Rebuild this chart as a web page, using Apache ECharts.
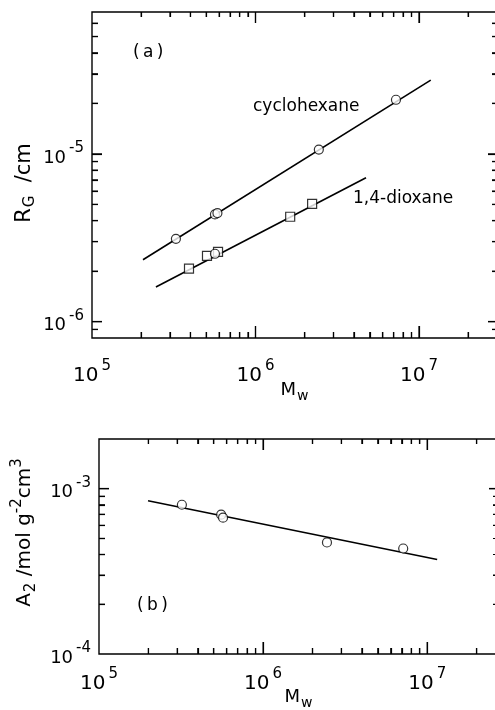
<!DOCTYPE html>
<html><head><meta charset="utf-8">
<script src="https://cdn.jsdelivr.net/npm/echarts@6/dist/echarts.min.js"></script>
<style>html,body{margin:0;padding:0;background:#fff}#c{width:495px;height:710px}</style>
</head><body><div id="c"></div>
<script>
// ---- Panel (a): radius of gyration vs Mw ----
const cyclohexaneMw = [3.26e5, 5.65e5, 5.85e5, 2.44e6, 7.23e6];
const cyclohexaneRg = [3.12e-6, 4.36e-6, 4.44e-6, 1.06e-5, 2.10e-5];
const cyclohexaneFitMw = [2.05e5, 1.18e7];
const cyclohexaneFitRg = [2.34e-6, 2.75e-5];
const dioxaneMw = [3.92e5, 5.05e5, 5.9e5, 1.63e6, 2.22e6];
const dioxaneRg = [2.07e-6, 2.47e-6, 2.61e-6, 4.22e-6, 5.04e-6];
const dioxaneCircleMw = [5.65e5];
const dioxaneCircleRg = [2.54e-6];
const dioxaneFitMw = [2.46e5, 4.74e6];
const dioxaneFitRg = [1.61e-6, 7.2e-6];
// ---- Panel (b): second virial coefficient vs Mw ----
const a2Mw = [3.2e5, 5.55e5, 5.7e5, 2.45e6, 7.14e6];
const a2Val = [8.0e-4, 6.97e-4, 6.68e-4, 4.73e-4, 4.35e-4];
const a2FitMw = [1.99e5, 1.15e7];
const a2FitVal = [8.47e-4, 3.73e-4];
// ---- axis ranges and tick values ----
const xRangeA = [1e5, 3e7];
const yRangeA = [8e-7, 7e-5];
const xRangeB = [1e5, 2.7e7];
const yRangeB = [1e-4, 2e-3];
const xMajorTicks = [1e5, 1e6, 1e7];
const xMinorTicks = [2e5, 3e5, 4e5, 5e5, 6e5, 7e5, 8e5, 9e5, 2e6, 3e6, 4e6, 5e6, 6e6, 7e6, 8e6, 9e6, 2e7];
const yMajorTicksA = [1e-6, 1e-5];
const yMinorTicksA = [8e-7, 9e-7, 2e-6, 3e-6, 4e-6, 5e-6, 6e-6, 7e-6, 8e-6, 9e-6, 2e-5, 3e-5, 4e-5, 5e-5, 6e-5];
const yMajorTicksB = [1e-4, 1e-3];
const yMinorTicksB = [2e-4, 3e-4, 4e-4, 5e-4, 6e-4, 7e-4, 8e-4, 9e-4];
const xTitle = 'M{sub|w}';
const yTitleA = 'R{sub|G}  /cm';
const yTitleB = 'A{sub|2} /mol g{sup|-2}cm{sup|3}';

const FONT = 'DejaVu Sans';
const zip = (a, b) => a.map((v, i) => [v, b[i]]);

function powLabel(v) {
  const e = Math.log10(v);
  const r = Math.round(e);
  if (Math.abs(e - r) > 1e-6) return '';
  return '{b|10}{s|' + (r < 0 ? '-' + (-r) : r) + '}';
}
function labelRich(size, supSize) {
  return {
    b: {fontFamily: FONT, fontSize: size, color: '#000', padding: [8, 0, 0, 0]},
    s: {fontFamily: FONT, fontSize: supSize, color: '#000', padding: [0, 0, 11, 3]}
  };
}
function nameRich(size) {
  return {
    sub: {fontFamily: FONT, fontSize: size, color: '#000', padding: [12, 0, 0, 1]},
    sup: {fontFamily: FONT, fontSize: size, color: '#000', padding: [0, 0, 15, 0]}
  };
}

function xAxisCfg(gi, range, margin, gap) {
  return {
    gridIndex: gi, type: 'log', logBase: 10, min: range[0], max: range[1],
    axisLine: {show: false}, axisTick: {show: false}, splitLine: {show: false},
    axisLabel: {formatter: powLabel, rich: labelRich(20, 15), margin: margin, fontFamily: FONT, fontSize: 20, color: '#000',
      showMinLabel: true, showMaxLabel: true, hideOverlap: false},
    name: xTitle, nameLocation: 'middle', nameGap: gap, nameMoveOverlap: false,
    nameTextStyle: {fontFamily: FONT, fontSize: 18, color: '#000', rich: nameRich(14)}
  };
}
function yAxisCfg(gi, range, gap, title, pad, size, subSize) {
  return {
    gridIndex: gi, type: 'log', logBase: 10, min: range[0], max: range[1],
    axisLine: {show: false}, axisTick: {show: false}, splitLine: {show: false},
    axisLabel: {formatter: powLabel, rich: labelRich(18, 15), margin: 8, fontFamily: FONT, fontSize: 18, color: '#000',
      showMinLabel: true, showMaxLabel: true, hideOverlap: false},
    name: title, nameLocation: 'middle', nameGap: gap, nameRotate: 90, nameMoveOverlap: false,
    nameTextStyle: {fontFamily: FONT, fontSize: size, color: '#000', rich: nameRich(subSize), padding: pad}
  };
}
// Tick-only companion axes (log10 of the value, same span as the log axis) for the
// inward major/minor ticks on every side of the frame.
function tickAxis(gi, range, position, ticks, len) {
  return {
    gridIndex: gi, type: 'value', position: position,
    min: Math.log10(range[0]), max: Math.log10(range[1]),
    axisLine: {show: false}, splitLine: {show: false}, axisLabel: {show: false},
    axisTick: {show: true, inside: true, length: len,
      customValues: ticks.filter(v => v > range[0] && v < range[1]).map(v => Math.log10(v)),
      lineStyle: {color: '#000', width: 1.2}}
  };
}

// Tick marks drawn through the panel's log axes (kind 0/1 x major/minor, 2/3 y major/minor; side 0 bottom/left, 1 top/right)
function tickSeries(gi, xr, yr, yMaj, yMin) {
  const pts = [], meta = [];
  const add = (x, y, kind, side) => { pts.push([x, y]); meta.push([kind, side]); };
  [0, 1].forEach(side => {
    xMajorTicks.forEach(v => { if (v > xr[0] && v < xr[1]) add(v, yr[0], 0, side); });
    xMinorTicks.forEach(v => { if (v > xr[0] && v < xr[1]) add(v, yr[0], 1, side); });
    yMaj.forEach(v => { if (v > yr[0] && v < yr[1]) add(xr[0], v, 2, side); });
    yMin.forEach(v => { if (v > yr[0] && v < yr[1]) add(xr[0], v, 3, side); });
  });
  return {
    type: 'custom', xAxisIndex: gi, yAxisIndex: gi, data: pts, z: 50,
    encode: {x: 0, y: 1},
    renderItem: function (params, api) {
      const cs = params.coordSys;
      const kind = meta[params.dataIndex][0], side = meta[params.dataIndex][1];
      const p = api.coord([api.value(0), api.value(1)]);
      let s;
      if (kind < 2) {
        const len = kind === 0 ? (side ? 11 : 12) : (side ? 5 : 6);
        const x = p[0];
        s = side ? [x, cs.y, x, cs.y + len] : [x, cs.y + cs.height, x, cs.y + cs.height - len];
      } else {
        const len = kind === 2 ? (side ? 9 : 10) : (side ? 5 : 6);
        const y = p[1];
        s = side ? [cs.x + cs.width, y, cs.x + cs.width - len, y] : [cs.x, y, cs.x + len, y];
      }
      return {type: 'line', shape: {x1: s[0], y1: s[1], x2: s[2], y2: s[3]}, style: {stroke: '#000', lineWidth: 1.2}};
    }
  };
}

const lineStyle = {color: '#000', width: 1.6};
const openMark = {color: '#fff', borderColor: '#000', borderWidth: 1.2};

const option = {
  backgroundColor: '#fff',
  animation: false,
  grid: [
    {left: 92, top: 12, width: 405, height: 326, outerBoundsMode: 'none', containLabel: false,
      show: true, borderColor: '#000', borderWidth: 1.4, backgroundColor: 'transparent'},
    {left: 99, top: 439, width: 399, height: 215, outerBoundsMode: 'none', containLabel: false,
      show: true, borderColor: '#000', borderWidth: 1.4, backgroundColor: 'transparent'}
  ],
  xAxis: [
    xAxisCfg(0, xRangeA, 20, 39), xAxisCfg(1, xRangeB, 12, 30),
    tickAxis(0, xRangeA, 'bottom', xMajorTicks, 12), tickAxis(0, xRangeA, 'bottom', xMinorTicks, 6),
    tickAxis(0, xRangeA, 'top', xMajorTicks, 11), tickAxis(0, xRangeA, 'top', xMinorTicks, 5),
    tickAxis(1, xRangeB, 'bottom', xMajorTicks, 12), tickAxis(1, xRangeB, 'bottom', xMinorTicks, 6),
    tickAxis(1, xRangeB, 'top', xMajorTicks, 11), tickAxis(1, xRangeB, 'top', xMinorTicks, 5)
  ],
  yAxis: [
    yAxisCfg(0, yRangeA, 54, yTitleA, [0, 16, 0, 0], 21, 15),
    yAxisCfg(1, yRangeB, 59, yTitleB, [0, 0, 0, 28], 20, 15),
    tickAxis(0, yRangeA, 'left', yMajorTicksA, 10), tickAxis(0, yRangeA, 'left', yMinorTicksA, 6),
    tickAxis(0, yRangeA, 'right', yMajorTicksA, 9), tickAxis(0, yRangeA, 'right', yMinorTicksA, 5),
    tickAxis(1, yRangeB, 'left', yMajorTicksB, 10), tickAxis(1, yRangeB, 'left', yMinorTicksB, 6),
    tickAxis(1, yRangeB, 'right', yMajorTicksB, 9), tickAxis(1, yRangeB, 'right', yMinorTicksB, 5)
  ],
  series: [
    {type: 'line', xAxisIndex: 0, yAxisIndex: 0, data: zip(cyclohexaneFitMw, cyclohexaneFitRg), showSymbol: false, lineStyle: lineStyle, z: 3},
    {type: 'line', xAxisIndex: 0, yAxisIndex: 0, data: zip(dioxaneFitMw, dioxaneFitRg), showSymbol: false, lineStyle: lineStyle, z: 3},
    {type: 'line', xAxisIndex: 1, yAxisIndex: 1, data: zip(a2FitMw, a2FitVal), showSymbol: false, lineStyle: lineStyle, z: 3},
    {type: 'scatter', xAxisIndex: 0, yAxisIndex: 0, data: zip(cyclohexaneMw, cyclohexaneRg), symbol: 'circle', symbolSize: 9, itemStyle: openMark, z: 4},
    {type: 'scatter', xAxisIndex: 0, yAxisIndex: 0, data: zip(dioxaneMw, dioxaneRg), symbol: 'rect', symbolSize: 9, itemStyle: openMark, z: 4},
    {type: 'scatter', xAxisIndex: 0, yAxisIndex: 0, data: zip(dioxaneCircleMw, dioxaneCircleRg), symbol: 'circle', symbolSize: 9, itemStyle: openMark, z: 4},
    {type: 'scatter', xAxisIndex: 1, yAxisIndex: 1, data: zip(a2Mw, a2Val), symbol: 'circle', symbolSize: 9, itemStyle: openMark, z: 4},
    tickSeries(0, xRangeA, yRangeA, yMajorTicksA, yMinorTicksA),
    tickSeries(1, xRangeB, yRangeB, yMajorTicksB, yMinorTicksB)
  ],
  graphic: [
    {type: 'text', left: 133, top: 44, style: {text: '(\u2009a\u2009)', font: '17px "DejaVu Sans"', fill: '#000'}},
    {type: 'text', left: 253, top: 98, style: {text: 'cyclohexane', font: '17px "DejaVu Sans"', fill: '#000'}},
    {type: 'text', left: 353, top: 190, style: {text: '1,4-dioxane', font: '17px "DejaVu Sans"', fill: '#000'}},
    {type: 'text', left: 137, top: 597, style: {text: '(\u2009b\u2009)', font: '17px "DejaVu Sans"', fill: '#000'}}
  ]
};
const chart = echarts.init(document.getElementById('c'), null, {renderer: 'canvas'});
chart.setOption(option);
</script>
</body></html>
